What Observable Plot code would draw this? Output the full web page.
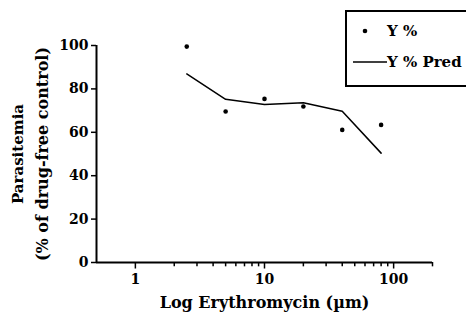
<!DOCTYPE html>
<html><head><meta charset="utf-8">
<script src="https://cdn.jsdelivr.net/npm/d3@7"></script>
<script src="https://cdn.jsdelivr.net/npm/@observablehq/plot@0.6"></script>
<style>
html,body{margin:0;padding:0;background:#fff;overflow:hidden;width:466px;height:320px}
#wrap{position:relative;width:466px;height:320px}
.legend{position:absolute;left:345px;top:10px;width:135px;height:77px;border:2px solid #000;box-sizing:border-box;color:#000}
.legend svg{position:absolute;left:0;top:0}
</style></head>
<body><div id="wrap"></div>
<script>
const conc = [2.5, 5, 10, 20, 40, 80];
const yObs = [99.5, 69.6, 75.4, 71.9, 61.1, 63.4];
const yPred = [86.9, 75.2, 72.8, 73.6, 69.7, 50.4];
const xMajor = [1, 10, 100];
const xMinor = [2,3,4,5,6,7,8,9,20,30,40,50,60,70,80,90,200];
const yTicks = [0, 20, 40, 60, 80, 100];
const seriesNames = ["Y %", "Y % Pred"];

const data = conc.map((c, i) => ({c, obs: yObs[i], pred: yPred[i]}));
const font = "DejaVu Serif";

const chart = Plot.plot({
  width: 466, height: 320,
  marginLeft: 96, marginRight: 34, marginTop: 45, marginBottom: 58,
  style: {fontFamily: font, fontSize: "14px", fontWeight: "600", color: "#000", background: "#fff", overflow: "visible"},
  x: {type: "log", domain: [0.5, 200]},
  y: {domain: [0, 100]},
  marks: [
    Plot.ruleX(xMinor, {x: d => d, y1: 0, y2: -2, stroke: "#000", strokeWidth: 1.5}),
    Plot.ruleX(xMajor, {x: d => d, y1: 0, y2: -3, stroke: "#000", strokeWidth: 1.5}),
    Plot.axisX({ticks: xMajor, tickSize: 0, tickPadding: 12, tickFormat: d => String(d), fontSize: 14, label: null}),
    Plot.axisY({ticks: yTicks, tickSize: 5, tickPadding: 3, strokeWidth: 1.5, fontSize: 14, label: null}),
    Plot.ruleY([0], {strokeWidth: 2}),
    Plot.ruleX([0.5], {y1: 0, y2: 100, strokeWidth: 2}),
    Plot.line(data, {x: "c", y: "pred", stroke: "#000", strokeWidth: 1.5}),
    Plot.dot(data, {x: "c", y: "obs", r: 2.3, fill: "#000", stroke: null}),
    Plot.text(["Log Erythromycin (\u00b5m)"], {frameAnchor: "bottom", dy: 45, fontSize: 16}),
    Plot.text(["Parasitemia"], {frameAnchor: "left", dx: -78, rotate: -90, textAnchor: "middle", fontSize: 15}),
    Plot.text(["(% of drug-free control)"], {frameAnchor: "left", dx: -54, rotate: -90, textAnchor: "middle", fontSize: 16})
  ]
});
const wrap = document.getElementById("wrap");
wrap.appendChild(chart);

const leg = document.createElement("div");
leg.className = "legend";
leg.innerHTML = `<svg width="135" height="77">
  <circle cx="18" cy="19" r="2.3" fill="#000"/>
  <text x="40" y="24" font-family="${font}" font-size="15" font-weight="600">${seriesNames[0]}</text>
  <line x1="6" y1="50" x2="40" y2="50" stroke="#000" stroke-width="1.5"/>
  <text x="40" y="55" font-family="${font}" font-size="15" font-weight="600">${seriesNames[1]}</text>
</svg>`;
wrap.appendChild(leg);
</script></body></html>
